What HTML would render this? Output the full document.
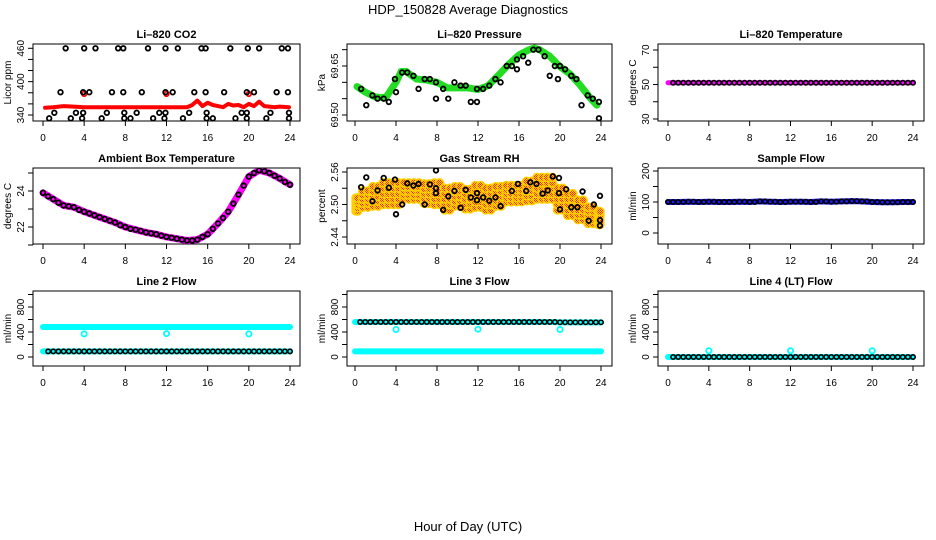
<!DOCTYPE html>
<html><head><meta charset="utf-8"><style>
html,body{margin:0;padding:0;background:#fff;}
svg{display:block;font-family:"Liberation Sans",sans-serif;}
</style></head><body>
<svg id="c" width="936" height="540" viewBox="0 0 936 540">
<defs>
<pattern id="chk" width="2" height="2" patternUnits="userSpaceOnUse"><rect width="2" height="2" fill="#ffd000"/><rect width="1" height="1" fill="#ff2000"/><rect x="1" y="1" width="1" height="1" fill="#ff4000"/></pattern>
</defs>
<text x="468" y="14" text-anchor="middle" font-size="13">HDP_150828  Average Diagnostics</text>
<text x="468" y="531" text-anchor="middle" font-size="13">Hour of Day (UTC)</text>
</svg>
<script>
// ---- data ----
const hoursTicks = [0,4,8,12,16,20,24];
const hourly = [0,1,2,3,4,5,6,7,8,9,10,11,12,13,14,15,16,17,18,19,20,21,22,23,24];
// CO2
const co2RedHours = [0.2,1,2,3,4,5,6,7,8,9,10,11,12,13,14,14.5,15,15.5,16,16.5,17,17.5,18,18.5,19,19.5,20,20.5,21,21.5,22,22.5,23,23.9];
const co2RedValues = [353,354,356,355,354,354,354,354,354,354,354,354,354,354,354,358,366,356,362,358,356,354,360,357,358,354,360,356,364,356,355,354,355,354];
const co2RedOutHours = [4,12,20];
const co2RedOutValues = [378,378,378];
const co2BlackHours = [2.2,4.0,5.1,7.3,7.8,10.2,11.9,13.1,15.4,15.8,18.2,19.9,21.0,23.2,23.8,
 1.7,3.9,4.5,6.7,7.8,9.6,11.9,12.6,14.7,15.8,17.6,19.8,20.5,22.7,23.8,
 1.1,3.2,3.9,6.2,7.9,9.1,11.3,11.9,14.2,15.9,19.3,19.8,22.1,23.9,
 0.6,2.7,3.8,5.7,7.9,8.5,10.7,11.8,13.6,15.9,16.5,18.7,19.8,21.7,23.9];
const co2BlackValues = [460,460,460,460,460,460,460,460,460,460,460,460,460,460,460,
 381,381,381,381,381,381,381,381,381,381,381,381,381,381,381,
 344,344,344,344,344,344,344,344,344,344,344,344,344,344,
 334,334,334,334,334,334,334,334,334,334,334,334,334,334,334];
// Pressure
const presHours = [0.2,1,2,3,4,4.5,5,6,7,8,9,10,11,12,13,14,15,16,17,17.5,18,19,20,21,22,23,23.6];
const presValues = [69.587,69.57,69.555,69.553,69.60,69.633,69.633,69.61,69.607,69.60,69.583,69.583,69.583,69.578,69.59,69.622,69.655,69.684,69.70,69.705,69.70,69.68,69.648,69.625,69.59,69.55,69.53];
const presBlackHours = [0.6,1.1,1.7,2.2,2.8,3.3,3.9,4.0,4.6,5.1,5.7,6.2,6.8,7.3,7.9,7.9,8.6,9.1,9.7,10.3,10.8,11.3,11.9,11.9,12.5,13.1,13.7,14.2,14.8,15.3,15.8,15.8,16.4,16.9,17.4,17.9,18.5,19.0,19.5,19.8,20.0,20.5,21.1,21.6,22.1,22.7,23.2,23.8,23.8];
const presBlackValues = [69.58,69.53,69.56,69.55,69.55,69.54,69.61,69.57,69.63,69.63,69.62,69.58,69.61,69.61,69.60,69.55,69.58,69.55,69.60,69.59,69.59,69.54,69.54,69.58,69.58,69.59,69.61,69.60,69.65,69.65,69.67,69.64,69.68,69.66,69.70,69.70,69.68,69.62,69.65,69.61,69.65,69.64,69.62,69.61,69.53,69.56,69.55,69.54,69.49];
// Li-820 temperature
const tempValues = [51,51,51,51,51,51,51,51,51,51,51,51,51,51,51,51,51,51,51,51,51,51,51,51,51];
// Ambient box temperature
const ambValues = [23.9,23.55,23.2,23.1,22.85,22.65,22.45,22.25,22.0,21.85,21.7,21.6,21.45,21.35,21.25,21.3,21.6,22.2,22.85,23.8,24.8,25.15,25.0,24.7,24.35];
const ambHalfValues = [23.7,23.35,23.15,22.95,22.75,22.55,22.35,22.1,21.9,21.78,21.65,21.52,21.4,21.3,21.25,21.45,21.9,22.5,23.3,24.3,25.0,25.1,24.85,24.5];
// Gas stream RH
const rhMean = [2.50,2.51,2.515,2.52,2.52,2.525,2.525,2.52,2.52,2.51,2.515,2.51,2.515,2.51,2.515,2.52,2.52,2.525,2.53,2.53,2.51,2.50,2.49,2.48,2.475];
const rhSpread = [0.012,0.015,0.018,0.02,0.02,0.015,0.015,0.018,0.02,0.02,0.018,0.018,0.02,0.02,0.018,0.015,0.015,0.018,0.02,0.02,0.02,0.02,0.018,0.015,0.012];
const rhBlackHours = [0.6,1.1,1.7,2.2,2.8,3.3,3.9,4.0,4.6,5.1,5.7,6.2,6.8,7.3,7.9,7.9,7.9,8.6,9.1,9.7,10.3,10.8,11.3,11.9,11.9,12.5,13.1,13.7,14.2,15.3,15.9,16.7,17.1,17.7,18.3,18.8,19.3,19.9,19.9,20.0,20.6,21.1,21.7,22.2,22.8,23.3,23.9,23.9,23.9];
const rhBlackValues = [2.532,2.550,2.506,2.526,2.549,2.531,2.546,2.482,2.500,2.539,2.535,2.538,2.500,2.537,2.563,2.521,2.530,2.490,2.515,2.525,2.494,2.527,2.513,2.521,2.508,2.513,2.507,2.513,2.497,2.525,2.538,2.525,2.541,2.538,2.520,2.526,2.552,2.549,2.521,2.491,2.528,2.495,2.495,2.524,2.470,2.500,2.516,2.471,2.461];
// Flows
const sampleFlow = [100,100,101,100,101,100,100,101,100,102,101,100,101,101,100,102,101,102,103,102,100,99,99,100,100];
const line2High = [480,480,480,480,480,480,480,480,480,480,480,480,480,480,480,480,480,480,480,480,480,480,480,480,480];
const line2Low = [90,90,90,90,90,90,90,90,90,90,90,90,90,90,90,90,90,90,90,90,90,90,90,90,90];
const line2OutHours = [4,12,20];
const line2OutValues = [370,375,370];
const line3High = [560,560,560,560,560,560,560,560,560,560,560,560,560,560,560,560,560,560,560,560,555,555,555,555,555];
const line3Low = [90,90,90,90,90,90,90,90,90,90,90,90,90,90,90,90,90,90,90,90,90,90,90,90,90];
const line3OutHours = [4,12,20];
const line3OutValues = [440,445,440];
const line4Values = [0,0,0,0,0,0,0,0,0,0,0,0,0,0,0,0,0,0,0,0,0,0,0,0,0];
const line4OutHours = [4,12,20];
const line4OutValues = [100,100,100];

// ---- layout ----
const svg = document.getElementById('c');
const NS = 'http://www.w3.org/2000/svg';
const cols = [{l:33,r:300,x0:43,x24:290},{l:347,r:612,x0:355,x24:601},{l:658,r:924,x0:668,x24:913}];
const rows = [{t:44,b:121},{t:168,b:244},{t:291,b:366}];
function el(tag, attrs, parent){const e=document.createElementNS(NS,tag);for(const k in attrs)e.setAttribute(k,attrs[k]);(parent||svg).appendChild(e);return e;}

function panel(name, title, ylab, col, row, yMapA, yMapB, yTicks, yLabels, dec){
  const c=cols[col], r=rows[row];
  const g=el('g',{});
  
  
  const xs=h=>c.x0+(c.x24-c.x0)*h/24;
  const ys=v=>yMapA[1]+(v-yMapA[0])*(yMapB[1]-yMapA[1])/(yMapB[0]-yMapA[0]);
  const t=el('text',{x:(c.l+c.r)/2,y:r.t-6,'text-anchor':'middle','font-size':11,'font-weight':'bold'},g);
  t.textContent=title;
  
  
  const box=el('rect',{x:c.l,y:r.t,width:c.r-c.l,height:r.b-r.t,fill:'none',stroke:'#000','stroke-width':1},g);
  
  
  const xa=el('g',{},g);
  
  
  el('line',{x1:xs(0),x2:xs(24),y1:r.b,y2:r.b,stroke:'#000'},xa);
  hoursTicks.forEach(h=>{
    el('line',{x1:xs(h),x2:xs(h),y1:r.b,y2:r.b+5,stroke:'#000'},xa);
    const tx=el('text',{x:xs(h),y:r.b+20,'text-anchor':'middle','font-size':10},xa);
    tx.textContent=h;
  });
  const ya=el('g',{},g);
  
  
  el('line',{x1:c.l,x2:c.l,y1:ys(yTicks[0]),y2:ys(yTicks[yTicks.length-1]),stroke:'#000'},ya);
  yTicks.forEach(v=>el('line',{x1:c.l-5,x2:c.l,y1:ys(v),y2:ys(v),stroke:'#000'},ya));
  yLabels.forEach(v=>{
    const y=ys(v);
    const tx=el('text',{x:c.l-9,y:y,'text-anchor':'middle','font-size':10,transform:`rotate(-90 ${c.l-9} ${y})`},ya);
    tx.textContent=v.toFixed(dec||0);
  });
  const yl=el('text',{x:c.l-22,y:(r.t+r.b)/2,'text-anchor':'middle','font-size':10,transform:`rotate(-90 ${c.l-22} ${(r.t+r.b)/2})`},g);
  yl.textContent=ylab;
  
  
  const clip='clip'+name;
  const cp=el('clipPath',{id:clip},g);
  el('rect',{x:c.l,y:r.t,width:c.r-c.l,height:r.b-r.t},cp);
  const pg=el('g',{'clip-path':`url(#${clip})`},g);
  return {xs,ys,pg,name};
}
function band(p, hrs, vals, color, w, label){
  const pts=hrs.map((h,i)=>p.xs(h)+','+p.ys(vals[i])).join(' ');
  const pl=el('polyline',{points:pts,fill:'none',stroke:color,'stroke-width':w,'stroke-linejoin':'round','stroke-linecap':'round'},p.pg);
  
  
}
function dots(p, hrs, vals, color, label, r, sw){
  const g=el('g',{},p.pg);
  
  
  hrs.forEach((h,i)=>{
    const c=el('circle',{cx:p.xs(h),cy:p.ys(vals[i]),r:r||2.3,fill:'none',stroke:color,'stroke-width':sw||1.8},g);
    
    
  });
}
const halfH = hourly.slice(0,24).map(h=>h+0.5);

// CO2
let p=panel('co2','Li\u2013820 CO2','Licor ppm',0,0,[340,115],[460,48.3],[340,360,380,400,420,440,460],[340,400,460]);
band(p,co2RedHours,co2RedValues,'#ff0000',4,'red-series');
dots(p,co2RedOutHours,co2RedOutValues,'#ff0000','red-outliers');
dots(p,co2BlackHours,co2BlackValues,'#000','black-points');
// Pressure
p=panel('pressure','Li\u2013820 Pressure','kPa',1,0,[69.50,115],[69.65,66],[69.50,69.55,69.60,69.65,69.70],[69.50,69.65],2);
band(p,presHours,presValues,'#22dd22',7,'green-series');
dots(p,presBlackHours,presBlackValues,'#000','black-points');
// Li-820 temp
p=panel('li820-temp','Li\u2013820 Temperature','degrees C',2,0,[30,119],[70,50],[30,40,50,60,70],[30,50,70]);
band(p,hourly,tempValues,'#ff00ff',5,'magenta-series');
dots(p,hourly.slice(1),tempValues.slice(1),'#000','black-points',2.2,1.6);
dots(p,halfH,tempValues.slice(0,24),'#000','black-points-half',2.2,1.6);
// Ambient
p=panel('ambient-temp','Ambient Box Temperature','degrees C',0,1,[24,191],[22,227],[21,22,23,24,25],[22,24]);
band(p,hourly,ambValues,'#ff00ff',7,'magenta-series');
dots(p,hourly,ambValues,'#000','black-points',2.3,1.8);
dots(p,halfH,ambHalfValues,'#000','black-points-half',2.3,1.8);
// RH
p=panel('rh','Gas Stream RH','percent',1,1,[2.56,172],[2.44,237],[2.44,2.47,2.50,2.53,2.56],[2.44,2.50,2.56],2);
{
  const g=el('g',{},p.pg);
  
  
  const offs=[-1,-0.5,0,0.5,1];
  hourly.forEach((h,i)=>{
    offs.forEach((o,j)=>{
      [-0.25,0.25].forEach(dh=>{
        const c=el('circle',{cx:p.xs(Math.min(23.9,Math.max(0.1,h+dh))),cy:p.ys(rhMean[i]+o*rhSpread[i]),r:4,fill:'url(#chk)',stroke:'#ffd000','stroke-width':1.5},g);
        
        
      });
    });
  });
}
dots(p,rhBlackHours,rhBlackValues,'#000','black-points');
// Sample flow
p=panel('sample-flow','Sample Flow','ml/min',2,1,[0,233],[200,171],[0,50,100,150,200],[0,100,200]);
band(p,hourly,sampleFlow,'#1a1aff',6,'blue-series');
dots(p,hourly,sampleFlow,'#000','black-points',2.2,1.6);
dots(p,halfH,sampleFlow.slice(0,24),'#000','black-points-half',2.2,1.6);
// Line 2
const flowTicks=[0,200,400,600,800,1000], flowLabels=[0,400,800];
p=panel('line2','Line 2 Flow','ml/min',0,2,[0,357],[800,307],flowTicks,flowLabels);
band(p,hourly,line2High,'#00ffff',6,'cyan-high');
band(p,hourly,line2Low,'#00ffff',6,'cyan-low');
dots(p,hourly.slice(1),line2Low.slice(1),'#000','black-points',2.2,1.6);
dots(p,halfH,line2Low.slice(0,24),'#000','black-points-half',2.2,1.6);
dots(p,line2OutHours,line2OutValues,'#00ffff','cyan-outliers',2.6,1.8);
// Line 3
p=panel('line3','Line 3 Flow','ml/min',1,2,[0,357],[800,307],flowTicks,flowLabels);
band(p,hourly,line3High,'#00ffff',6,'cyan-high');
band(p,hourly,line3Low,'#00ffff',6,'cyan-low');
dots(p,hourly.slice(1),line3High.slice(1),'#000','black-points',2.2,1.6);
dots(p,halfH,line3High.slice(0,24),'#000','black-points-half',2.2,1.6);
dots(p,line3OutHours,line3OutValues,'#00ffff','cyan-outliers',2.6,1.8);
// Line 4
p=panel('line4','Line 4 (LT) Flow','ml/min',2,2,[0,357],[800,307],flowTicks,flowLabels);
band(p,hourly,line4Values,'#00ffff',6,'cyan-series');
dots(p,hourly.slice(1),line4Values.slice(1),'#000','black-points',2.2,1.6);
dots(p,halfH,line4Values.slice(0,24),'#000','black-points-half',2.2,1.6);
dots(p,line4OutHours,line4OutValues,'#00ffff','cyan-outliers',2.6,1.8);
</script>
</body></html>
